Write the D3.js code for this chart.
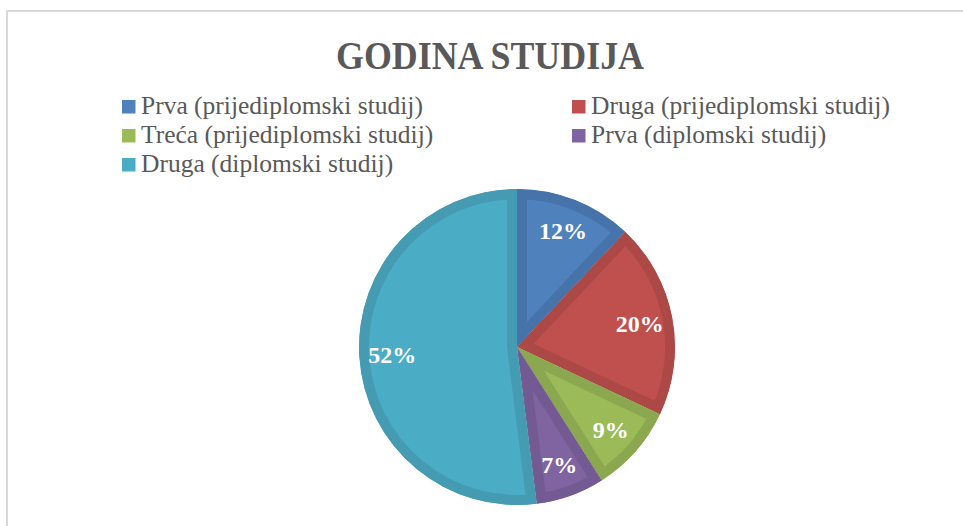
<!DOCTYPE html>
<html>
<head>
<meta charset="utf-8">
<script src="https://cdn.jsdelivr.net/npm/d3@7"></script>
<style>
  body { margin: 0; background: #fff; }
</style>
</head>
<body>
<div id="chart"></div>
<script>
var width  = 963;
var height = 526;

// chart data
var categories = ["Prva (prijediplomski studij)", "Druga (prijediplomski studij)",
                  "Treća (prijediplomski studij)", "Prva (diplomski studij)",
                  "Druga (diplomski studij)"];
var shares     = [12, 20, 9, 7, 52];
var fills      = ["#4F81BD", "#C0504D", "#9BBB59", "#8064A2", "#4BACC6"];
var edges      = ["#4673AA", "#AC4845", "#8BA850", "#735A92", "#449BB2"];

var svg = d3.select("#chart").append("svg")
    .attr("width", width)
    .attr("height", height);

// chart frame (runs off the right and bottom of the window)
svg.append("rect")
    .attr("x", 7).attr("y", 11)
    .attr("width", 1000).attr("height", 600)
    .attr("fill", "none")
    .attr("stroke", "#d9d9d9")
    .attr("stroke-width", 2);

// ------------- title -----------------
svg.append("text")
    .attr("x", 490)
    .attr("y", 69)
    .attr("text-anchor", "middle")
    .attr("textLength", 308)
    .attr("lengthAdjust", "spacingAndGlyphs")
    .style("font-family", "'Liberation Serif', serif")
    .style("font-weight", "bold")
    .style("font-size", "41px")
    .attr("fill", "#595959")
    .text("GODINA STUDIJA");

// ------------- legend -----------------
const legendCols = [122, 572];
const legendTop  = 100;
const legendGap  = 29;
const boxSize    = 13.5;

var legend = svg.append("g");
var items = legend.selectAll("g")
    .data(categories)
    .enter()
  .append("g")
    .attr("transform", function(d, i) {
      return "translate(" + legendCols[i % 2] + "," + (legendTop + Math.floor(i / 2) * legendGap) + ")";
    });

items.append("rect")
    .attr("width", boxSize)
    .attr("height", boxSize)
    .attr("fill", function(d, i) { return fills[i]; });

items.append("text")
    .attr("x", 19)
    .attr("y", 14)
    .style("font-family", "'Liberation Serif', serif")
    .style("font-size", "25.5px")
    .attr("fill", "#595959")
    .text(function(d) { return d; });

// ------------- pie -----------------
const cx = 517, cy = 347, radius = 158;
const labelRadius = 125;

var pie = d3.pie().sort(null).value(function(d) { return d; });
var arcs = pie(shares);

var arc = d3.arc().innerRadius(0).outerRadius(radius);
var labelArc = d3.arc().innerRadius(labelRadius).outerRadius(labelRadius);

var gPie = svg.append("g")
    .attr("transform", "translate(" + cx + "," + cy + ")");

var defs = svg.append("defs");
defs.selectAll("clipPath")
    .data(arcs)
    .enter()
  .append("clipPath")
    .attr("id", function(d, i) { return "slice" + i; })
  .append("path")
    .attr("d", arc);

// fill + inner darker border (stroke clipped to its own slice)
gPie.selectAll("path.slice")
    .data(arcs)
    .enter()
  .append("path")
    .attr("class", "slice")
    .attr("d", arc)
    .attr("fill", function(d, i) { return fills[i]; })
    .attr("stroke", function(d, i) { return edges[i]; })
    .attr("stroke-width", 20)
    .attr("stroke-linejoin", "miter")
    .attr("clip-path", function(d, i) { return "url(#slice" + i + ")"; });

// data labels
gPie.selectAll("text")
    .data(arcs)
    .enter()
  .append("text")
    .attr("transform", function(d) {
      var c = labelArc.centroid(d);
      return "translate(" + c[0] + "," + c[1] + ")";
    })
    .attr("text-anchor", "middle")
    .attr("dy", "0.35em")
    .style("font-family", "'Liberation Serif', serif")
    .style("font-weight", "bold")
    .style("font-size", "24px")
    .attr("fill", "#ffffff")
    .text(function(d) { return d.data + "%"; });
</script>
</body>
</html>
